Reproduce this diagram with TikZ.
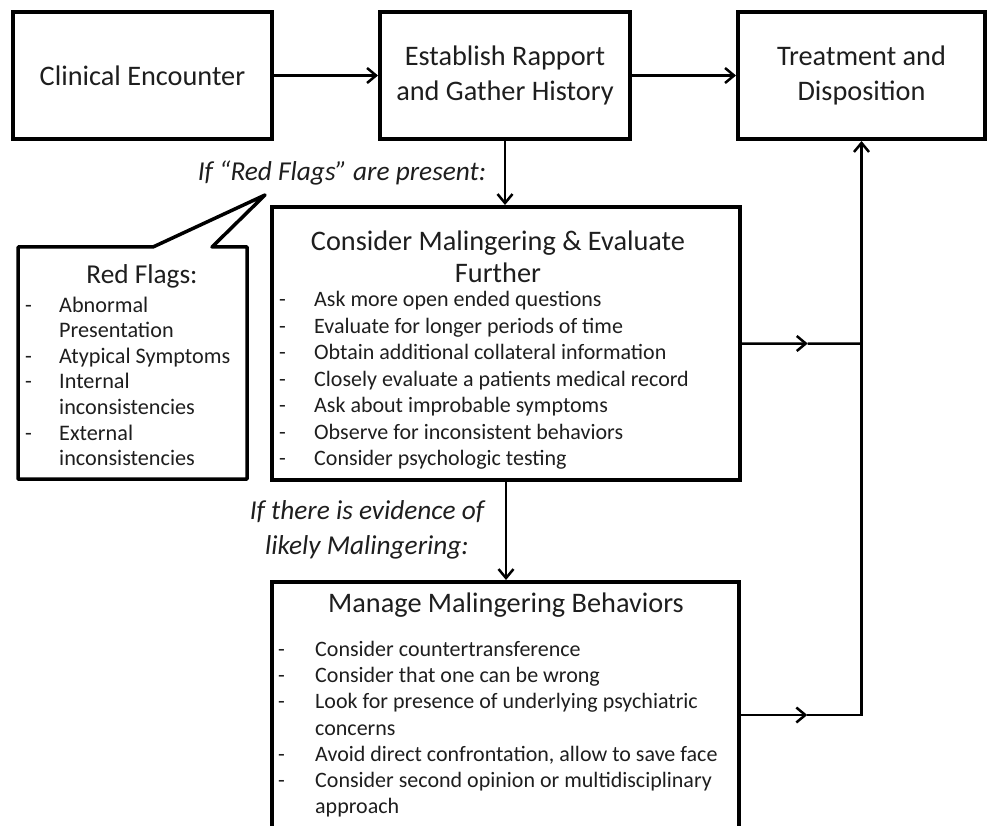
\documentclass[tikz,border=0pt]{standalone}
\usepackage{fontspec}
\setmainfont{Carlito}
\usetikzlibrary{arrows.meta,calc}
\definecolor{txt}{HTML}{1E1E1E}
\newcommand{\bli}[2][34pt]{\makebox[#1][l]{-}#2\strut}
\newcommand{\blc}[2][34pt]{\hspace*{#1}#2\strut}
\begin{document}
\begin{tikzpicture}[x=1pt,y=-1pt,
  box/.style={draw, line width=4pt, inner sep=0pt, align=center, text=txt, font=\fontsize{28.3}{35}\selectfont},
  conn/.style={line width=2.5pt, -{Straight Barb[length=9pt,width=15pt]}},
  plain/.style={line width=2.5pt},
  title/.style={text=txt, align=center, inner sep=0pt, font=\fontsize{28.3}{32}\selectfont},
  lbl/.style={text=txt, align=center, inner sep=0pt, font=\fontsize{27.3}{35}\selectfont\itshape},
  blist/.style={text=txt, align=left, inner sep=0pt, anchor=north west, font=\fontsize{22}{26.5}\selectfont}]
\useasboundingbox (0,0) rectangle (987,826);

% main boxes
\node[box, minimum width=259pt, minimum height=127pt] (b1) at (142.5,75.5) {Clinical Encounter};
\node[box, minimum width=250pt, minimum height=127pt] (b2) at (505,75.5) {Establish Rapport\\and Gather History};
\node[box, minimum width=247pt, minimum height=127pt] (b3) at (861.5,75.5) {Treatment and\\Disposition};
\node[box, minimum width=468pt, minimum height=273pt] (cons) at (506,343.5) {};
\node[box, minimum width=467pt, minimum height=260pt] (mng) at (505.5,712) {};

% callout
\coordinate (tip) at (265,195);
\draw[line width=3.5pt, line join=round] (18,247) -- (153,247) -- (tip) -- (212,247) -- (247,247) -- (247,479) -- (18,479) -- cycle;

% titles and labels
\node[title] (ct) at (498,257) {Consider Malingering \& Evaluate\\Further};
\node[title] (mt) at (506,605) {Manage Malingering Behaviors};
\node[title, font=\fontsize{27.3}{32}\selectfont] (rt) at (142,276) {Red Flags:};
\node[lbl] (l1) at (342,173) {If “Red Flags” are present:};
\node[lbl] (l2) at (367,530) {If there is evidence of\\likely Malingering:};

% lists
\node[blist, font=\fontsize{22.2}{25.6}\selectfont] (rl) at (25,294) {\bli{Abnormal}\\\blc{Presentation}\\\bli{Atypical Symptoms}\\\bli{Internal}\\\blc{inconsistencies}\\\bli{External}\\\blc{inconsistencies}};
\node[blist] (cl) at (279,288) {\bli[35pt]{Ask more open ended questions}\\\bli[35pt]{Evaluate for longer periods of time}\\\bli[35pt]{Obtain additional collateral information}\\\bli[35pt]{Closely evaluate a patients medical record}\\\bli[35pt]{Ask about improbable symptoms}\\\bli[35pt]{Observe for inconsistent behaviors}\\\bli[35pt]{Consider psychologic testing}};
\node[blist, font=\fontsize{22}{26.3}\selectfont] (ml) at (278,637.5) {\bli[37pt]{Consider countertransference}\\\bli[37pt]{Consider that one can be wrong}\\\bli[37pt]{Look for presence of underlying psychiatric}\\\blc[37pt]{concerns}\\\bli[37pt]{Avoid direct confrontation, allow to save face}\\\bli[37pt]{Consider second opinion or multidisciplinary}\\\blc[37pt]{approach}};

% connectors
\draw[conn] (b1) -- (b2);
\draw[conn] (b2) -- (b3);
\draw[conn] (b2.south) -- (b2.south |- cons.north);
\draw[conn] (cons.south) -- (cons.south |- mng.north);

\coordinate (jc) at (b3.south |- cons.east);
\coordinate (mc) at ($(cons.east)!0.55!(jc)$);
\draw[conn] (cons.east) -- (mc);
\draw[plain] (mc) -- (jc);

\coordinate (mo) at ($(mng.north east)+(0,135)$);
\coordinate (jm) at (b3.south |- mo);
\coordinate (mm) at ($(mo)!0.55!(jm)$);
\draw[conn] (mo) -- (mm);
\draw[conn] (mm) -- (jm) -- (b3.south);
\end{tikzpicture}
\end{document}
